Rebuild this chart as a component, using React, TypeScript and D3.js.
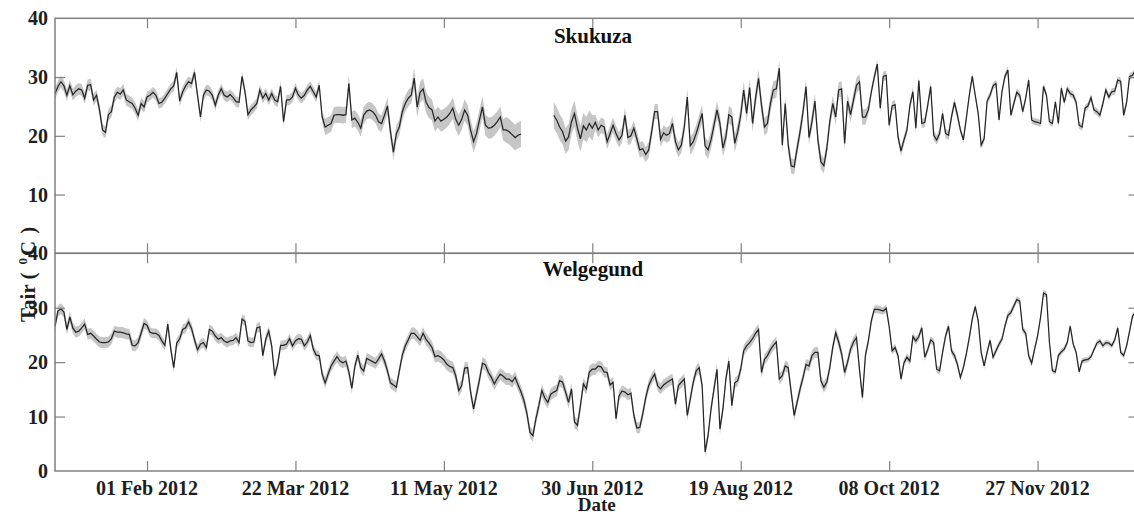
import React, { useEffect, useRef } from 'react';
import * as d3 from 'd3';

// daily air temperature 2012 (one value per day, Jan 1 .. Dec 31), null = missing
const skukuza = [
  27.2, 28.4, 29.2, 28.5, 26.9, 28.5, 27.0, 27.6, 28.0, 27.8,
  26.4, 28.6, 28.7, 26.1, 26.9, 24.4, 21.0, 20.6, 23.6, 24.1,
  26.6, 27.4, 27.1, 27.8, 26.1, 25.8, 25.5, 24.7, 23.5, 25.5,
  24.9, 26.6, 26.9, 27.4, 26.9, 25.5, 25.7, 26.4, 27.2, 28.0,
  28.5, 30.8, 25.9, 27.5, 28.5, 29.2, 28.9, 30.8, 26.9, 23.2,
  26.9, 27.8, 27.6, 26.9, 25.2, 26.9, 28.0, 26.9, 26.6, 27.0,
  26.5, 25.8, 25.7, 30.1, 27.5, 23.6, 24.4, 24.9, 25.5, 27.8,
  26.4, 27.2, 26.1, 27.2, 26.1, 25.8, 28.4, 22.4, 26.1, 26.1,
  26.6, 28.1, 26.9, 26.4, 26.9, 27.8, 28.4, 27.5, 26.6, 28.6,
  23.2, 21.5, 21.8, 22.1, 23.5, 23.6, 23.6, 23.5, 23.6, 28.9,
  22.7, 23.0, 22.3, 21.3, 23.5, 24.2, 24.4, 24.1, 23.5, 22.4,
  22.1, 23.5, 25.1, 20.7, 17.2, 20.4, 21.5, 24.1, 25.5, 26.4,
  26.9, 29.8, 24.9, 27.4, 28.0, 25.7, 24.8, 24.4, 22.5, 23.2,
  22.5, 22.8, 23.2, 23.8, 24.7, 22.8, 21.8, 22.8, 24.4, 23.5,
  21.0, 19.0, 20.4, 22.7, 24.9, 21.8, 21.3, 21.4, 21.8, 22.4,
  23.2, 21.0, 21.0, 20.7, 20.2, 19.7, 20.1, 20.3, null, null,
  null, null, null, null, null, null, null, null, 23.5, 22.7,
  21.5, 20.7, 19.1, 19.8, 22.4, 23.8, 21.3, 19.5, 21.7, 21.0,
  22.1, 21.3, 22.3, 21.0, 21.8, 21.5, 19.0, 20.4, 21.8, 20.4,
  19.3, 20.1, 23.5, 19.7, 20.0, 21.3, 19.5, 17.6, 17.8, 16.8,
  17.6, 20.7, 24.1, 24.1, 19.4, 20.5, 20.1, 20.4, 22.1, 19.0,
  17.6, 18.4, 21.5, 26.6, 18.3, 19.0, 20.4, 22.1, 23.8, 18.3,
  17.6, 19.3, 21.8, 24.4, 22.1, 17.9, 19.8, 23.6, 23.2, 18.7,
  20.7, 23.5, 27.8, 23.8, 28.2, 22.1, 26.4, 29.8, 25.2, 21.5,
  22.1, 25.5, 27.8, 28.0, 31.5, 18.4, 25.5, 18.4, 14.9, 14.7,
  17.8, 20.7, 24.1, 28.4, 19.7, 22.4, 25.9, 19.3, 15.6, 14.9,
  17.8, 22.4, 25.5, 23.2, 27.8, 28.0, 18.7, 25.9, 23.6, 26.1,
  28.6, 29.2, 23.2, 23.2, 24.4, 27.5, 30.0, 32.2, 24.7, 30.1,
  30.3, 21.8, 25.1, 25.3, 19.8, 17.4, 19.3, 21.0, 25.2, 27.5,
  21.3, 29.4, 22.1, 22.3, 25.2, 28.4, 20.1, 19.3, 20.4, 23.8,
  20.4, 20.1, 23.2, 25.7, 23.5, 21.0, 19.3, 23.0, 26.9, 30.1,
  26.9, 23.8, 18.4, 19.5, 25.9, 26.9, 28.5, 28.9, 22.7, 27.5,
  30.1, 31.2, 23.5, 25.5, 27.4, 26.9, 24.1, 26.4, 29.5, 22.7,
  22.4, 22.3, 22.1, 28.4, 26.9, 22.4, 22.1, 25.8, 22.1, 28.1,
  25.7, 28.0, 27.2, 26.9, 25.7, 21.8, 21.5, 24.7, 25.1, 26.5,
  24.4, 24.1, 23.5, 25.5, 27.8, 26.6, 27.5, 27.6, 29.5, 29.3,
  23.5, 25.7, 30.1, 30.3, 31.2, 30.8,
];

const welgegund = [
  26.6, 29.4, 29.8, 29.2, 26.0, 28.3, 26.3, 25.5, 25.7, 26.3,
  27.0, 25.1, 25.3, 24.8, 24.2, 23.7, 23.6, 23.6, 23.7, 24.3,
  25.7, 25.5, 25.5, 25.4, 25.2, 25.1, 23.1, 23.0, 23.6, 25.3,
  27.1, 26.8, 25.5, 25.3, 25.3, 24.9, 23.9, 23.1, 27.0, 22.4,
  19.0, 23.5, 24.3, 26.0, 26.3, 27.4, 26.2, 24.1, 22.3, 23.3,
  23.6, 22.7, 26.0, 25.7, 24.8, 24.2, 24.5, 23.9, 23.6, 23.9,
  24.0, 24.5, 23.6, 27.9, 27.5, 23.9, 23.6, 23.7, 26.3, 26.5,
  21.2, 24.2, 25.7, 23.0, 17.5, 19.6, 23.1, 23.1, 23.3, 24.3,
  23.0, 23.9, 24.3, 24.2, 23.0, 23.7, 24.9, 22.4, 21.3, 21.2,
  17.8, 16.2, 17.8, 19.3, 20.2, 21.0, 20.2, 19.9, 20.2, 18.2,
  15.2, 19.2, 21.3, 19.0, 18.4, 20.7, 20.4, 20.1, 19.8, 20.6,
  21.5, 20.2, 18.4, 16.2, 15.8, 15.4, 18.4, 21.3, 23.0, 24.1,
  25.3, 25.3, 24.7, 24.0, 25.3, 24.2, 23.5, 22.7, 21.0, 21.2,
  20.9, 20.4, 19.6, 19.2, 19.0, 17.5, 14.8, 15.7, 18.9, 19.0,
  14.5, 11.4, 14.1, 16.8, 19.8, 19.5, 18.1, 17.2, 16.0, 17.0,
  17.8, 17.4, 16.9, 16.9, 16.4, 17.2, 15.8, 14.5, 12.9, 10.5,
  7.1, 6.5, 9.6, 12.0, 14.8, 13.4, 12.6, 14.1, 14.5, 14.8,
  16.6, 16.3, 14.5, 12.6, 15.1, 9.0, 8.4, 12.0, 16.0, 15.1,
  18.2, 18.7, 18.7, 19.3, 19.1, 18.2, 18.1, 15.8, 16.3, 9.6,
  13.8, 14.7, 14.5, 14.0, 14.3, 10.2, 7.9, 8.0, 10.5, 13.5,
  15.7, 16.9, 17.8, 15.7, 15.1, 15.8, 16.2, 16.6, 16.9, 12.3,
  15.7, 16.3, 16.9, 10.2, 13.2, 16.3, 18.4, 19.0, 15.7, 3.5,
  6.5, 11.4, 15.1, 18.7, 7.7, 11.4, 16.9, 20.2, 12.0, 16.2,
  16.6, 18.7, 22.1, 23.0, 23.6, 24.3, 25.3, 26.0, 18.1, 20.5,
  21.2, 22.3, 23.1, 23.7, 16.9, 17.5, 19.3, 19.0, 14.5, 10.2,
  12.6, 15.1, 17.2, 19.6, 19.3, 21.2, 21.8, 21.8, 16.6, 15.4,
  16.3, 19.0, 22.7, 25.4, 23.7, 21.5, 18.1, 20.0, 22.4, 23.7,
  24.5, 18.7, 13.5, 21.2, 23.9, 27.6, 29.7, 29.7, 29.6, 29.4,
  29.9, 26.6, 22.1, 22.7, 21.2, 16.9, 19.9, 20.9, 20.2, 24.7,
  23.9, 24.7, 26.3, 20.9, 22.3, 24.1, 23.6, 18.7, 18.4, 21.8,
  24.8, 26.6, 22.1, 21.2, 19.6, 17.2, 19.0, 21.5, 24.5, 27.9,
  30.2, 27.6, 21.8, 19.3, 21.8, 24.0, 20.9, 22.1, 23.3, 24.2,
  26.6, 28.6, 29.1, 30.3, 31.5, 31.2, 26.0, 25.3, 21.2, 19.8,
  22.4, 24.8, 28.2, 32.7, 32.4, 23.6, 18.4, 18.2, 21.2, 21.9,
  22.4, 23.6, 26.6, 23.3, 21.8, 18.2, 20.2, 20.4, 20.5, 21.0,
  22.3, 23.5, 23.9, 23.0, 23.6, 23.5, 23.0, 24.1, 26.3, 21.8,
  21.2, 23.0, 25.7, 28.5, 29.1, 28.8,
];

// half-width of the grey band, per month (Jan..Dec)
const skukuzaSpread = [1.0, 0.9, 0.9, 1.4, 1.8, 2.2, 1.3, 1.5, 1.3, 0.8, 0.6, 0.6];
const welgegundSpread = [1.0, 0.9, 0.9, 1.0, 1.1, 1.1, 1.0, 1.0, 1.0, 0.7, 0.6, 0.5];

const tickDates = ['2012-02-01', '2012-03-22', '2012-05-11', '2012-06-30', '2012-08-19', '2012-10-08', '2012-11-27'];
const tickLabels = ['01 Feb 2012', '22 Mar 2012', '11 May 2012', '30 Jun 2012', '19 Aug 2012', '08 Oct 2012', '27 Nov 2012'];
const yTicks = [0, 10, 20, 30, 40];

const W = 1134;
const H = 516;
const FONT = '"Liberation Serif", "Times New Roman", serif';

const App = () => {
  const svgRef = useRef(null);

  useEffect(() => {
    const svg = d3.select(svgRef.current);
    svg.selectAll('*').remove();

    const start = new Date(2012, 0, 1);
    const days = d3.timeDay.range(start, new Date(2013, 0, 1));
    const parse = d3.timeParse('%Y-%m-%d');
    const ticks = tickDates.map(d => parse(d));

    const x = d3.scaleTime()
      .domain([start, new Date(2012, 11, 31)])
      .range([55, 1138.5]);

    const panels = [
      { name: 'Skukuza', values: skukuza, spread: skukuzaSpread, range: [253.3, 18.3], titleY: 43, labels: [10, 20, 30, 40] },
      { name: 'Welgegund', values: welgegund, spread: welgegundSpread, range: [471, 253.3], titleY: 276, labels: [0, 10, 20, 30, 40] },
    ];

    panels.forEach(p => {
      const y = d3.scaleLinear().domain([0, 40]).range(p.range);
      const rows = days.map((date, i) => ({ date, v: p.values[i], s: p.spread[date.getMonth()] }));
      const g = svg.append('g');

      // grey band
      const band = d3.area()
        .defined(d => d.v != null)
        .x(d => x(d.date))
        .y0(d => y(d.v - d.s))
        .y1(d => y(d.v + d.s));
      g.append('path').attr('d', band(rows)).attr('fill', '#c6c6c6');

      // daily line
      const line = d3.line()
        .defined(d => d.v != null)
        .x(d => x(d.date))
        .y(d => y(d.v));
      g.append('path').attr('d', line(rows))
        .attr('fill', 'none').attr('stroke', '#262626').attr('stroke-width', 1.25);

      // inward ticks on all four sides
      const [yb, yt] = p.range;
      const styleAxis = sel => {
        sel.select('.domain').remove();
        sel.selectAll('line').attr('stroke', '#808080').attr('stroke-width', 1.2);
      };
      g.append('g').attr('transform', `translate(0,${yb})`)
        .call(d3.axisBottom(x).tickValues(ticks).tickSize(-10).tickFormat(() => ''))
        .call(styleAxis);
      g.append('g').attr('transform', `translate(0,${yt})`)
        .call(d3.axisTop(x).tickValues(ticks).tickSize(-10).tickFormat(() => ''))
        .call(styleAxis);
      g.append('g').attr('transform', `translate(${x.range()[0]},0)`)
        .call(d3.axisLeft(y).tickValues([10, 20, 30]).tickSize(-10).tickFormat(() => ''))
        .call(styleAxis);
      g.append('g').attr('transform', `translate(${x.range()[1]},0)`)
        .call(d3.axisRight(y).tickValues([10, 20, 30]).tickSize(-10).tickFormat(() => ''))
        .call(styleAxis);

      // box
      g.append('rect')
        .attr('x', x.range()[0]).attr('y', yt)
        .attr('width', x.range()[1] - x.range()[0]).attr('height', yb - yt)
        .attr('fill', 'none').attr('stroke', '#808080').attr('stroke-width', 1.5);

      // y tick labels
      g.selectAll('text.ylab')
        .data(yTicks.filter(t => p.labels.includes(t)))
        .enter()
        .append('text')
        .attr('class', 'ylab')
        .attr('x', 48)
        .attr('y', d => y(d))
        .attr('dy', '0.35em')
        .attr('text-anchor', 'end')
        .attr('font-family', FONT).attr('font-weight', 'bold').attr('font-size', 20)
        .attr('fill', '#1e1e1e')
        .text(d => d);

      // panel title
      g.append('text')
        .attr('x', 593).attr('y', p.titleY)
        .attr('text-anchor', 'middle')
        .attr('font-family', FONT).attr('font-weight', 'bold').attr('font-size', 21)
        .attr('fill', '#111')
        .text(p.name);
    });

    // date labels under the lower panel
    svg.selectAll('text.xlab')
      .data(ticks)
      .enter()
      .append('text')
      .attr('class', 'xlab')
      .attr('x', d => x(d))
      .attr('y', 495)
      .attr('text-anchor', 'middle')
      .attr('font-family', FONT).attr('font-weight', 'bold').attr('font-size', 20)
      .attr('fill', '#1e1e1e')
      .text((d, i) => tickLabels[i]);

    svg.append('text')
      .attr('x', (x.range()[0] + x.range()[1]) / 2).attr('y', 511)
      .attr('text-anchor', 'middle')
      .attr('font-family', FONT).attr('font-weight', 'bold').attr('font-size', 19)
      .attr('fill', '#1e1e1e')
      .text('Date');

    // y axis title, rotated
    const yt = svg.append('text')
      .attr('transform', 'translate(35,322) rotate(-90)')
      .attr('font-family', FONT).attr('font-weight', 'bold').attr('font-size', 21)
      .attr('fill', '#1e1e1e');
    yt.append('tspan').text('Tair (');
    yt.append('tspan').attr('dx', 8).attr('dy', -8).attr('font-size', 13).text('0');
    yt.append('tspan').attr('dx', 2).attr('dy', 8).text('C');
    yt.append('tspan').attr('dx', 7).text(')');
  }, []);

  return (
    <svg ref={svgRef} width={W} height={H}
      style={{ position: 'absolute', left: 0, top: 0, background: '#fff' }} />
  );
};

export default App;
